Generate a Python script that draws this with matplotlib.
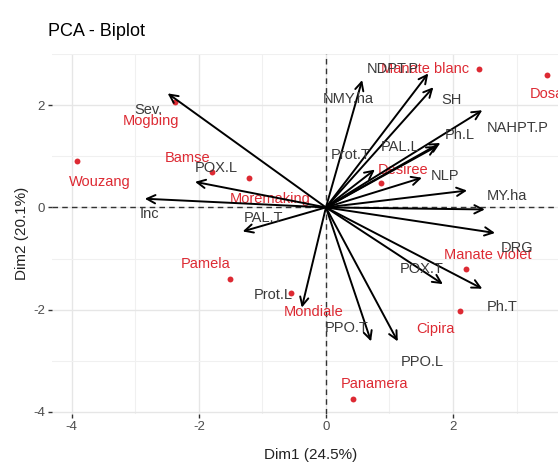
import matplotlib
matplotlib.use("Agg")
import matplotlib.pyplot as plt

plt.rcParams['font.family'] = ['Liberation Sans', 'DejaVu Sans']
plt.rcParams['axes.unicode_minus'] = False

# individuals (red points)
ind_names = ["Wouzang", "Mogbing", "Bamse", "Moremaking", "Pamela", "Mondiale",
             "Panamera", "Cipira", "Manate violet", "Desiree", "Manate blanc", "Dosa"]
ind_x = [-3.92, -2.38, -1.80, -1.21, -1.51, -0.55, 0.43, 2.11, 2.20, 0.87, 2.41, 3.48]
ind_y = [0.91, 2.06, 0.70, 0.58, -1.40, -1.67, -3.75, -2.02, -1.20, 0.47, 2.70, 2.58]
ind_lab_x = [-3.56, -2.76, -2.17, -0.88, -1.89, -0.20, 0.77, 1.73, 2.55, 1.21, 1.56, 3.48]
ind_lab_y = [0.50, 1.69, 0.97, 0.17, -1.11, -2.04, -3.46, -2.37, -0.93, 0.74, 2.70, 2.21]

# variables (arrows)
var_names = ["Sev.", "POX.L", "Inc", "PAL.T", "Prot.L", "PPO.T", "PPO.L", "POX.T", "Ph.T",
             "DRG", "", "MY.ha", "NLP", "Prot.T", "PAL.L", "Ph.L", "NAHPT.P", "SH",
             "NDPT.P", "NMY.ha"]
var_x = [-2.49, -2.06, -2.85, -1.31, -0.38, 0.71, 1.13, 1.84, 2.46,
         2.66, 2.50, 2.22, 1.51, 0.77, 1.75, 1.80, 2.46, 1.69, 1.61, 0.57]
var_y = [2.23, 0.50, 0.17, -0.47, -1.96, -2.62, -2.62, -1.50, -1.59,
         -0.50, -0.04, 0.33, 0.58, 0.74, 1.20, 1.26, 1.90, 2.35, 2.62, 2.49]
var_lab_x = [-2.80, -1.73, -2.77, -0.99, -0.83, 0.33, 1.51, 1.51, 2.77,
             3.01, 2.50, 2.85, 1.87, 0.39, 1.17, 2.11, 3.01, 1.97, 1.06, 0.35]
var_lab_y = [1.90, 0.78, -0.12, -0.21, -1.71, -2.35, -3.03, -1.20, -1.94,
             -0.80, -0.04, 0.23, 0.62, 1.03, 1.18, 1.42, 1.55, 2.10, 2.70, 2.12]

red = '#DD2A33'
grey_txt = '#3A3A3A'

fig = plt.figure(figsize=(5.58, 4.66), dpi=100)
ax = fig.add_axes([52 / 558, 52 / 466, 518 / 558, 360 / 466])
ax.set_xlim(-4.31, 3.84)
ax.set_ylim(-4.04, 2.95)

# theme_minimal-like grid
ax.set_xticks([-4, -2, 0, 2])
ax.set_yticks([-4, -2, 0, 2])
ax.set_xticks([-3, -1, 1, 3], minor=True)
ax.set_yticks([-3, -1, 1, 3], minor=True)
ax.grid(which='major', color='#E6E6E6', lw=1.0)
ax.grid(which='minor', color='#F0F0F0', lw=0.8)
ax.set_axisbelow(True)
for s in ax.spines.values():
    s.set_visible(False)
ax.tick_params(which='major', length=3, width=1, color='#333333',
               labelcolor='#4D4D4D', labelsize=9.5, pad=2)
ax.tick_params(which='minor', length=0)

ax.axhline(0, color='#333333', lw=1, ls=(0, (4, 3)), zorder=1)
ax.axvline(0, color='#333333', lw=1, ls=(0, (4, 3)), zorder=1)

# individuals
ax.scatter(ind_x, ind_y, s=18, color=red, zorder=3, linewidths=0)
for name, lx, ly in zip(ind_names, ind_lab_x, ind_lab_y):
    ax.text(lx, ly, name, color=red, fontsize=10.5, ha='center', va='center', zorder=4)

# variables
for name, vx, vy, lx, ly in zip(var_names, var_x, var_y, var_lab_x, var_lab_y):
    ax.annotate('', xy=(vx, vy), xytext=(0, 0),
                arrowprops=dict(arrowstyle='->,head_length=0.6,head_width=0.3',
                                lw=1.4, color='black', shrinkA=0, shrinkB=0),
                zorder=5)
    if name:
        ax.text(lx, ly, name, color=grey_txt, fontsize=10.5, ha='center', va='center', zorder=6)

fig.text(48 / 558, 1 - 32 / 466, "PCA - Biplot", fontsize=13, ha='left', va='center', color='black')
fig.text(311 / 558, 1 - 455 / 466, "Dim1 (24.5%)", fontsize=11, ha='center', va='center', color='#222222')
fig.text(22 / 558, 0.5, "Dim2 (20.1%)", fontsize=11, ha='center', va='center', rotation=90, color='#222222')

fig.savefig("out.png", dpi=100)
